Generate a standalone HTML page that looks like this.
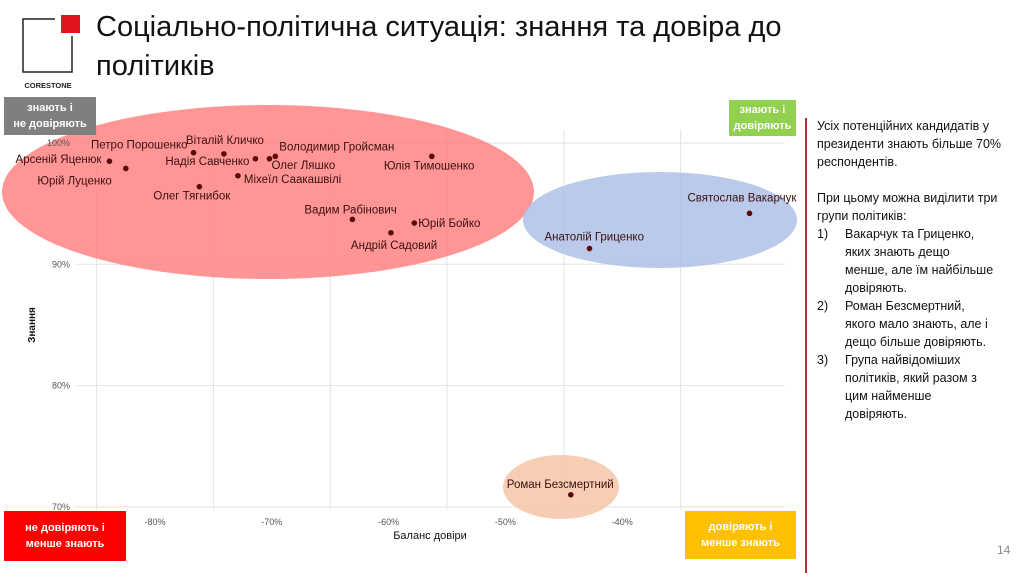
<!DOCTYPE html>
<html><head><meta charset="utf-8"><style>
body{margin:0;width:1024px;height:573px;background:#fff;overflow:hidden;font-family:"Liberation Sans","DejaVu Sans",sans-serif;position:relative}
.t{position:absolute}
.box{position:absolute;color:#fff;font-weight:bold;font-size:11px;text-align:center;line-height:16px;display:flex;align-items:center;justify-content:center}
</style></head><body>
<svg class="t" style="left:0;top:0" width="90" height="95">
<path d="M55 19 H23 V72 H72 V36" fill="none" stroke="#222" stroke-width="1.5"/>
<rect x="61" y="15" width="19" height="18" fill="#e2141f"/>
<text x="48" y="88" font-size="7.5" font-weight="bold" text-anchor="middle" fill="#222" font-family="Liberation Sans">CORESTONE</text>
</svg>
<div class="t" style="left:96px;top:8px;font-size:29px;line-height:39px;color:#111">Соціально-політична ситуація: знання та довіра до<br>політиків</div>
<svg id="chart" class="t" style="left:0;top:0" width="806" height="573"></svg>
<div class="box" style="left:4px;top:97px;width:92px;height:38px;background:#7f7f7f">знають і<br>не довіряють</div>
<div class="box" style="left:729px;top:100px;width:67px;height:36px;background:#92d050">знають і<br>довіряють</div>
<div class="box" style="left:4px;top:511px;width:122px;height:50px;background:#ff0000">не довіряють і<br>менше знають</div>
<div class="box" style="left:685px;top:511px;width:111px;height:48px;background:#ffc000">довіряють і<br>менше знають</div>
<div class="t" style="left:805px;top:118px;width:2px;height:455px;background:#a33"></div>
<div class="t" style="left:817px;top:117px;width:192px;font-size:12.5px;line-height:18px;color:#111">
Усіх потенційних кандидатів у президенти знають більше 70% респондентів.<br><br>При цьому можна виділити три групи політиків:
<div style="display:flex"><span style="width:28px">1)</span><span style="width:150px">Вакарчук та Гриценко, яких знають дещо менше, але їм найбільше довіряють.</span></div>
<div style="display:flex"><span style="width:28px">2)</span><span style="width:150px">Роман Безсмертний, якого мало знають, але і дещо більше довіряють.</span></div>
<div style="display:flex"><span style="width:28px">3)</span><span style="width:150px">Група найвідоміших політиків, який разом з цим найменше довіряють.</span></div>
</div>
<div class="t" style="left:997px;top:543px;font-size:12px;color:#888">14</div>
<script>
const names=["Арсеній Яценюк","Юрій Луценко","Петро Порошенко","Віталій Кличко","Надія Савченко","Олег Ляшко","Володимир Гройсман","Міхеїл Саакашвілі","Олег Тягнибок","Юлія Тимошенко","Вадим Рабінович","Юрій Бойко","Андрій Садовий","Святослав Вакарчук","Анатолій Гриценко","Роман Безсмертний"];
const trust=[-83.9,-82.5,-76.7,-74.1,-71.4,-70.2,-69.7,-72.9,-76.2,-56.3,-63.1,-57.8,-59.8,-29.1,-42.8,-44.4];
const known=[98.5,97.9,99.2,99.1,98.7,98.7,98.9,97.3,96.4,98.9,93.7,93.4,92.6,94.2,91.3,71.0];
const xTicks=[-80,-70,-60,-50,-40];
const yTicks=[70,80,90,100];
const X=v=>155+(v+80)*11.68, Y=v=>143+(100-v)*12.13;
const lab=[[-8,2,"end"],[-14,16,"end"],[-6,-4,"end"],[-38,-10,"start"],[-6,6,"end"],[2,10,"start"],[4,-6,"start"],[6,7,"start"],[-46,13,"start"],[-48,13,"start"],[-48,-6,"start"],[4,4,"start"],[-40,16,"start"],[-62,-12,"start"],[-45,-8,"start"],[-64,-7,"start"]];
const s=document.getElementById('chart'),NS="http://www.w3.org/2000/svg";
function mk(t,a,p){const e=document.createElementNS(NS,t);for(const k in a)e.setAttribute(k,a[k]);(p||s).appendChild(e);return e;}
for(let v=-85;v<=-30;v+=10){const l=mk('line',{x1:X(v),x2:X(v),y1:130,y2:510,stroke:'#e3e3e3'});

}
yTicks.forEach(v=>{const l=mk('line',{x1:76,x2:785,y1:Y(v),y2:Y(v),stroke:'#e3e3e3'});

});
xTicks.forEach(v=>{const t=mk('text',{x:X(v),y:525,'font-size':9,fill:'#555','text-anchor':'middle'});t.textContent=v+'%';

});
const e1=mk('ellipse',{cx:268,cy:192,rx:266,ry:87,fill:'#ff7b7b','fill-opacity':0.8});


const e2=mk('ellipse',{cx:660,cy:220,rx:137,ry:48,fill:'#aabde6','fill-opacity':0.8});


const e3=mk('ellipse',{cx:561,cy:487,rx:58,ry:32,fill:'#f6c6a6','fill-opacity':0.85});


yTicks.forEach(v=>{const t=mk('text',{x:70,y:Y(v)+3,'font-size':9,fill:'#555','text-anchor':'end'});t.textContent=v+'%';

});
names.forEach((n,i)=>{const c=mk('circle',{cx:X(trust[i]),cy:Y(known[i]),r:2.8,fill:'#5a0a0a'});


const t=mk('text',{x:X(trust[i])+lab[i][0],y:Y(known[i])+lab[i][1],'font-size':11.5,fill:'#3a1010','text-anchor':lab[i][2]});t.textContent=n;

});
const xt=mk('text',{x:430,y:539,'font-size':11,fill:'#111','text-anchor':'middle'});xt.textContent='Баланс довіри';


const yt=mk('text',{x:0,y:0,'font-size':10,'font-weight':'bold',fill:'#111','text-anchor':'middle',transform:'translate(35,325) rotate(-90)'});yt.textContent='Знання';


</script>
</body></html>
